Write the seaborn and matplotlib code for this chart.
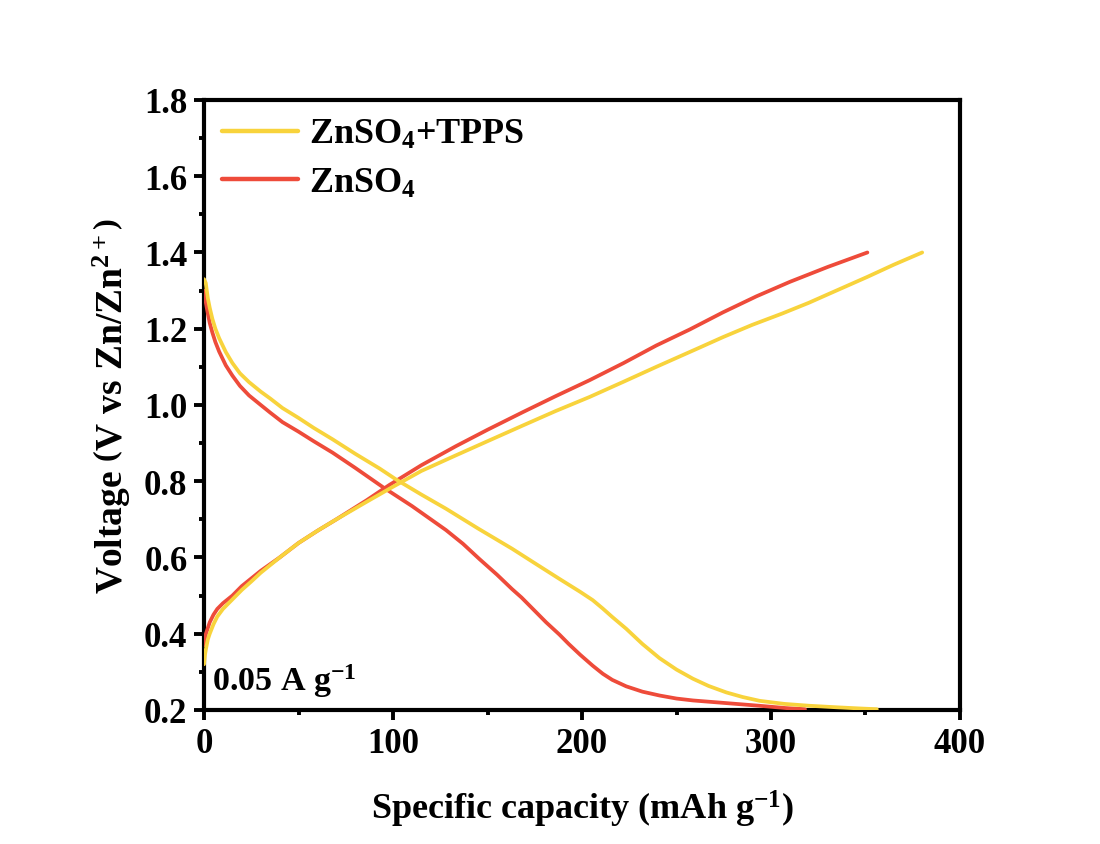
import numpy as np
import pandas as pd
import matplotlib
matplotlib.use("Agg")
import matplotlib.pyplot as plt
import seaborn as sns
from matplotlib.ticker import MultipleLocator, FormatStrFormatter
from matplotlib.lines import Line2D

# Galvanostatic charge/discharge profiles at 0.05 A g-1 (capacity in mAh/g, voltage in V)
tpps_dis_cap = [0, 0.9, 2, 3, 4.4, 6, 8, 11.5, 15, 19, 23.8, 30, 35, 41.5, 50, 58, 68,
                80, 93, 101.5, 115, 128, 145, 163, 175, 188, 199, 205.7, 211, 216,
                223.4, 232, 241, 250, 258.7, 267, 276.4, 285, 294, 307, 320.5, 335,
                347, 356]
tpps_dis_v = [1.33, 1.32, 1.28, 1.255, 1.226, 1.20, 1.175, 1.139, 1.11, 1.083, 1.06,
              1.035, 1.017, 0.992, 0.966, 0.94, 0.91, 0.872, 0.833, 0.805, 0.765,
              0.728, 0.676, 0.623, 0.585, 0.544, 0.51, 0.488, 0.466, 0.444, 0.413,
              0.373, 0.336, 0.306, 0.282, 0.263, 0.246, 0.234, 0.224, 0.216, 0.211,
              0.207, 0.204, 0.202]
tpps_chg_cap = [0, 0.5, 1, 2, 3, 5, 7, 10, 15, 20, 25, 30, 40, 50, 60, 70, 86, 98, 115,
                133.3, 150, 168.6, 186, 204, 222, 239.3, 262, 274.6, 290, 306, 320,
                330, 351, 365, 380]
tpps_chg_v = [0.32, 0.345, 0.36, 0.385, 0.40, 0.425, 0.445, 0.465, 0.49, 0.515, 0.537,
              0.56, 0.60, 0.638, 0.67, 0.70, 0.746, 0.78, 0.827, 0.868, 0.905, 0.946,
              0.984, 1.021, 1.061, 1.10, 1.15, 1.178, 1.21, 1.24, 1.268, 1.29, 1.336,
              1.368, 1.40]

bare_dis_cap = [0, 0.9, 2, 3, 4.4, 6, 8, 11.5, 15, 19, 23.8, 30, 35, 41.5, 50, 58, 68,
                80, 94.5, 110, 120, 128, 137, 145.7, 155, 163, 168, 172, 177, 181, 188,
                193, 199, 205.7, 211, 216, 223.4, 232, 241, 250, 258.7, 276.4, 294,
                308, 318]
bare_dis_v = [1.30, 1.27, 1.24, 1.215, 1.19, 1.165, 1.14, 1.104, 1.077, 1.05, 1.025,
              1.0, 0.98, 0.955, 0.93, 0.905, 0.875, 0.835, 0.785, 0.735, 0.70, 0.672,
              0.636, 0.596, 0.555, 0.517, 0.495, 0.475, 0.45, 0.43, 0.398, 0.373,
              0.345, 0.316, 0.295, 0.279, 0.262, 0.248, 0.238, 0.23, 0.225, 0.218,
              0.211, 0.205, 0.202]
bare_chg_cap = [0, 0.5, 1, 2, 3, 5, 7, 10, 15, 20, 25, 30, 40, 50, 60, 70, 86, 98, 115,
                133.3, 150, 168.6, 186, 204, 222, 239.3, 257, 274.6, 292.3, 310, 330, 351]
bare_chg_v = [0.37, 0.385, 0.40, 0.415, 0.43, 0.45, 0.465, 0.48, 0.50, 0.525, 0.545,
              0.565, 0.60, 0.638, 0.67, 0.70, 0.75, 0.79, 0.842, 0.892, 0.935, 0.981,
              1.023, 1.065, 1.11, 1.156, 1.198, 1.243, 1.285, 1.323, 1.362, 1.40]

labels = ["ZnSO$_4$+TPPS", "ZnSO$_4$"]
colors = ["#F8D33C", "#EE4B3A"]

sns.set_style("ticks")
plt.rcParams["font.family"] = ["Liberation Serif", "DejaVu Serif"]
plt.rcParams["font.weight"] = "bold"
plt.rcParams["mathtext.fontset"] = "custom"
plt.rcParams["mathtext.rm"] = "Liberation Serif:bold"
plt.rcParams["mathtext.bf"] = "Liberation Serif:bold"
plt.rcParams["mathtext.it"] = "Liberation Serif:bold"
for key in ["text.color", "axes.labelcolor", "xtick.color", "ytick.color", "axes.edgecolor"]:
    plt.rcParams[key] = "black"

fig = plt.figure(figsize=(11, 8.45), dpi=100)
ax = fig.add_axes([0.1855, 0.1586, 0.6872, 0.7219])

curves = [
    (bare_chg_cap, bare_chg_v, 1),
    (bare_dis_cap, bare_dis_v, 1),
    (tpps_chg_cap, tpps_chg_v, 0),
    (tpps_dis_cap, tpps_dis_v, 0),
]
for cap, v, idx in curves:
    df = pd.DataFrame({"cap": cap, "v": v})
    sns.lineplot(data=df, x="cap", y="v", sort=False, estimator=None, ax=ax,
                 color=colors[idx], lw=2.7, label=None, zorder=3 if idx == 1 else 4,
                 solid_joinstyle="round", solid_capstyle="round")

ax.set_xlim(0, 400)
ax.set_ylim(0.2, 1.8)
ax.xaxis.set_major_locator(MultipleLocator(100))
ax.xaxis.set_minor_locator(MultipleLocator(50))
ax.yaxis.set_major_locator(MultipleLocator(0.2))
ax.yaxis.set_minor_locator(MultipleLocator(0.1))
ax.yaxis.set_major_formatter(FormatStrFormatter("%.1f"))

for s in ax.spines.values():
    s.set_visible(True)
    s.set_linewidth(3.0)
    s.set_color("black")
ax.tick_params(which="major", direction="out", length=7, width=2.8, labelsize=25,
               top=False, right=False, pad=5)
ax.tick_params(which="minor", direction="out", length=3.8, width=2.8, top=False, right=False)
for lbl in ax.get_xticklabels() + ax.get_yticklabels():
    lbl.set_fontweight("bold")

ax.set_xlabel("Specific capacity (mAh g$^{-1}$)", fontsize=26, fontweight="bold", labelpad=20)
ax.set_ylabel(r"Voltage $\left(\mathrm{V\ vs\ Zn/Zn^{2+}}\right)$", fontsize=27,
              fontweight="bold", labelpad=8)

ax.text(0.011, 0.018, "0.05 A g$^{-1}$", transform=ax.transAxes, fontsize=24.5,
        fontweight="bold", ha="left", va="bottom")

# Legend built from proxy lines in the series colours
handles = [Line2D([], [], color=c, lw=3.2) for c in colors]
leg = ax.legend(handles, labels, loc="upper left", frameon=False, handlelength=2.1,
                handletextpad=0.3, labelspacing=0.42, borderaxespad=0.1,
                borderpad=0.4, prop={"weight": "bold", "size": 26})

fig.patch.set_facecolor("white")
fig.savefig("out.png", dpi=100, facecolor="white")
